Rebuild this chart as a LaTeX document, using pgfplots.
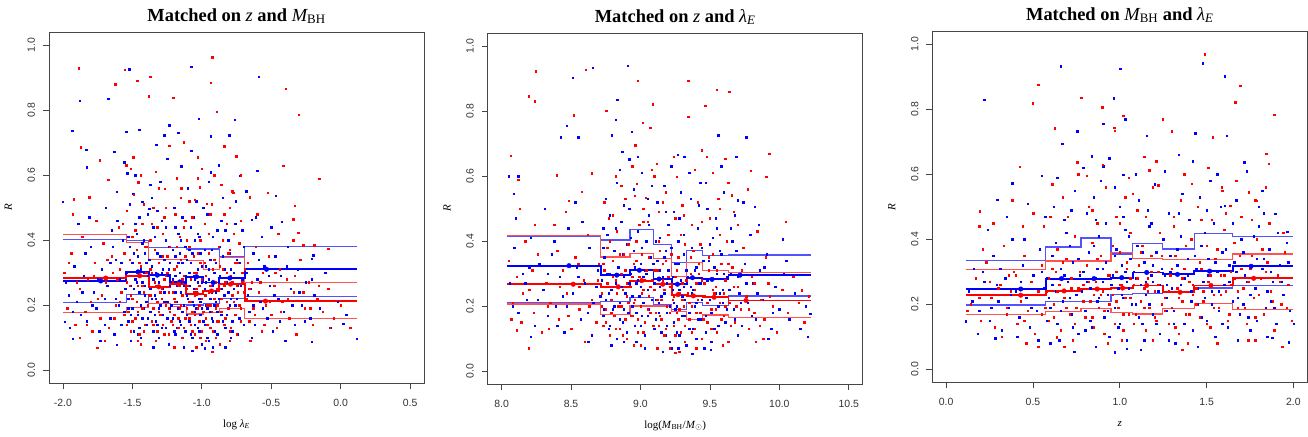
\documentclass[border=0pt]{standalone}
\usepackage{pgfplots}
\pgfplotsset{compat=1.18}
\usepackage{fontspec}
\setmainfont{Liberation Serif}
\newfontfamily\arial{Liberation Sans}
\definecolor{rb}{RGB}{0,0,255}
\definecolor{rr}{RGB}{255,0,0}
\definecolor{frm}{RGB}{70,70,70}
\pgfplotsset{
 rpanel/.style={
  width=375bp, height=351bp, scale only axis, anchor=south west,
  axis line style={frm, line width=0.8bp},
  tick align=outside, xtick pos=left, ytick pos=left,
  major tick length=6bp,
  tick style={frm, line width=0.7bp},
  ymin=-0.04, ymax=1.04,
  ytick={0,0.2,0.4,0.6,0.8,1.0},
  yticklabels={0.0,0.2,0.4,0.6,0.8,1.0},
  ticklabel style={font=\arial\fontsize{10.5}{12}\selectfont, text=black!80},
  xticklabel style={anchor=base, yshift=-17bp},
  yticklabel style={xshift=-8bp, rotate=90, anchor=base},
  xlabel style={at={(axis description cs:0.5,0)}, anchor=base, yshift=-44bp, font=\fontsize{11}{13}\selectfont},
  ylabel style={at={(axis description cs:-0.0987,0.5)}, anchor=base, font=\fontsize{11}{13}\selectfont},
  title style={at={(axis description cs:0.5,1)}, anchor=base, yshift=5bp, font=\fontsize{18.5}{20}\selectfont\bfseries},
  ylabel={\textit{R}},
 },
 bpts/.style={only marks, mark=square*, mark size=0.72bp, color=rb},
 rpts/.style={only marks, mark=square*, mark size=0.72bp, color=rr},
 medb/.style={const plot, no marks, color=rb, line width=1.8bp},
 medr/.style={const plot, no marks, color=rr, line width=1.8bp},
 qb/.style={const plot, no marks, color=rb!68, line width=1.2bp},
 qr/.style={const plot, no marks, color=rr!68, line width=1.2bp},
 dotb/.style={only marks, mark=*, mark size=2.3bp, color=rb},
 dotr/.style={only marks, mark=*, mark size=2.3bp, color=rr},
}
\begin{document}
\begin{tikzpicture}
\useasboundingbox (0,0) rectangle (1308bp,437bp);
% ---------------- Panel 1
\begin{axis}[rpanel, at={(49bp,54bp)},
  xmin=-2.1, xmax=0.6,
  xtick={-2,-1.5,-1,-0.5,0,0.5}, xticklabels={-2.0,-1.5,-1.0,-0.5,0.0,0.5},
  xlabel={log \textit{λ}\textsubscript{\textit{E}}},
  title={Matched on {\mdseries\itshape z} and {\mdseries\itshape M}{\mdseries\textsubscript{BH}}}]
\addplot[bpts] coordinates {(-2.002,0.517)(-1.880,0.829)(-1.933,0.736)(-1.832,0.677)(-1.827,0.624)(-1.673,0.835)(-1.524,0.926)(-1.543,0.734)(-1.452,0.740)(-1.077,0.933)(-0.591,0.903)(-1.022,0.773)(-0.762,0.771)(-1.233,0.753)(-1.272,0.722)(-0.937,0.720)(-0.803,0.722)(-1.171,0.730)(-1.327,0.694)(-1.632,0.672)(-1.075,0.674)(-0.601,0.614)(-1.536,0.606)(-1.147,0.627)(-0.937,0.609)(-0.726,0.597)(-0.469,0.536)(-1.611,0.548)(-1.495,0.543)(-1.428,0.517)(-1.380,0.497)(-0.755,0.520)(-0.642,0.463)(-0.425,0.456)(-0.197,0.353)(-0.209,0.343)(0.115,0.097)(0.019,0.143)(-0.209,0.087)(-0.978,0.067)(-1.928,0.097)(-1.611,0.077)(-1.988,0.149)
(-1.98,0.27)(-1.95,0.13)(-1.92,0.32)(-1.90,0.21)(-1.87,0.17)(-1.85,0.29)(-1.83,0.15)(-1.80,0.38)(-1.78,0.24)(-1.76,0.19)(-1.74,0.12)(-1.72,0.31)(-1.70,0.22)(-1.68,0.26)(-1.66,0.16)(-1.65,0.43)(-1.63,0.11)(-1.62,0.34)(-1.60,0.20)(-1.59,0.28)(-1.58,0.14)(-1.57,0.40)(-1.56,0.18)(-1.89,0.45)(-1.81,0.47)(-1.69,0.50)(-1.61,0.46)(-1.96,0.23)(-1.73,0.09)(-1.84,0.36)
(-1.54,0.30)(-1.53,0.22)(-1.53,0.15)(-1.52,0.38)(-1.51,0.26)(-1.50,0.19)(-1.50,0.33)(-1.49,0.12)(-1.48,0.28)(-1.48,0.45)(-1.47,0.21)(-1.46,0.35)(-1.46,0.17)(-1.45,0.24)(-1.44,0.31)(-1.44,0.10)(-1.43,0.27)(-1.42,0.40)(-1.42,0.19)(-1.41,0.23)(-1.40,0.14)(-1.40,0.33)(-1.39,0.29)(-1.39,0.48)(-1.52,0.51)(-1.47,0.42)(-1.43,0.16)(-1.41,0.36)(-1.49,0.25)(-1.45,0.13)(-1.51,0.09)(-1.40,0.21)
(-1.37,0.25)(-1.37,0.18)(-1.36,0.32)(-1.35,0.12)(-1.35,0.28)(-1.34,0.41)(-1.33,0.22)(-1.33,0.15)(-1.32,0.36)(-1.31,0.27)(-1.31,0.10)(-1.30,0.20)(-1.29,0.30)(-1.29,0.46)(-1.28,0.17)(-1.27,0.24)(-1.27,0.34)(-1.26,0.13)(-1.25,0.29)(-1.25,0.21)(-1.24,0.38)(-1.24,0.08)(-1.23,0.26)(-1.23,0.19)(-1.36,0.53)(-1.30,0.58)(-1.26,0.44)(-1.34,0.23)(-1.28,0.31)(-1.32,0.14)
(-1.21,0.28)(-1.21,0.16)(-1.20,0.22)(-1.19,0.35)(-1.19,0.11)(-1.18,0.26)(-1.17,0.19)(-1.17,0.42)(-1.16,0.30)(-1.15,0.14)(-1.15,0.24)(-1.14,0.33)(-1.13,0.20)(-1.13,0.07)(-1.12,0.27)(-1.12,0.38)(-1.11,0.17)(-1.11,0.23)(-1.20,0.50)(-1.14,0.47)(-1.18,0.13)(-1.16,0.36)(-1.12,0.29)(-1.19,0.24)
(-1.09,0.26)(-1.09,0.15)(-1.08,0.33)(-1.07,0.21)(-1.07,0.10)(-1.06,0.29)(-1.05,0.18)(-1.05,0.40)(-1.04,0.24)(-1.03,0.13)(-1.03,0.31)(-1.02,0.22)(-1.01,0.36)(-1.01,0.17)(-1.00,0.27)(-1.00,0.08)(-1.08,0.44)(-1.04,0.52)(-1.02,0.12)(-1.06,0.20)(-1.00,0.19)(-1.09,0.37)(-1.05,0.28)(-1.03,0.42)
(-0.98,0.25)(-0.98,0.14)(-0.97,0.32)(-0.96,0.19)(-0.95,0.28)(-0.95,0.09)(-0.94,0.22)(-0.93,0.37)(-0.93,0.16)(-0.92,0.26)(-0.91,0.12)(-0.91,0.30)(-0.90,0.21)(-0.89,0.43)(-0.89,0.18)(-0.88,0.27)(-0.96,0.48)(-0.92,0.07)(-0.94,0.34)(-0.90,0.24)
(-0.87,0.29)(-0.86,0.17)(-0.85,0.35)(-0.84,0.23)(-0.83,0.13)(-0.82,0.27)(-0.81,0.40)(-0.80,0.20)(-0.79,0.31)(-0.78,0.15)(-0.77,0.25)(-0.76,0.45)(-0.75,0.22)(-0.74,0.11)(-0.73,0.33)(-0.72,0.19)(-0.71,0.28)(-0.70,0.38)(-0.85,0.53)(-0.79,0.10)(-0.74,0.26)(-0.82,0.21)
(-0.68,0.30)(-0.66,0.18)(-0.65,0.25)(-0.63,0.36)(-0.62,0.14)(-0.60,0.28)(-0.58,0.21)(-0.57,0.41)(-0.55,0.32)(-0.53,0.16)(-0.51,0.26)(-0.49,0.12)(-0.47,0.35)(-0.45,0.22)(-0.43,0.29)(-0.41,0.18)(-0.38,0.38)(-0.36,0.25)(-0.33,0.14)(-0.31,0.31)(-0.28,0.20)(-0.25,0.27)(-0.22,0.16)(-0.19,0.23)(-0.15,0.19)(-0.11,0.30)(-0.07,0.13)(-0.02,0.21)(0.04,0.17)(-0.61,0.47)(-0.50,0.44)(-0.40,0.09)(-0.64,0.10)};
\addplot[bpts] coordinates {(-1.58,0.33)(-1.55,0.25)(-1.53,0.41)(-1.51,0.17)(-1.49,0.36)(-1.47,0.27)(-1.46,0.11)(-1.44,0.20)(-1.43,0.39)(-1.41,0.26)(-1.39,0.16)(-1.38,0.34)(-1.36,0.22)(-1.35,0.44)(-1.34,0.17)(-1.33,0.30)(-1.31,0.19)(-1.30,0.35)(-1.29,0.13)(-1.28,0.25)(-1.26,0.40)(-1.25,0.16)(-1.24,0.31)(-1.22,0.20)(-1.21,0.37)(-1.20,0.12)(-1.19,0.29)(-1.18,0.21)(-1.17,0.33)(-1.16,0.15)(-1.15,0.40)(-1.14,0.18)(-1.13,0.26)(-1.12,0.12)(-1.11,0.34)(-1.10,0.22)(-1.09,0.30)(-1.08,0.11)(-1.07,0.36)(-1.06,0.25)(-1.05,0.14)(-1.04,0.19)(-1.03,0.27)(-1.02,0.41)(-1.01,0.21)(-1.00,0.32)(-0.99,0.15)(-0.98,0.37)(-0.97,0.20)(-0.96,0.10)(-0.95,0.31)(-0.94,0.18)(-0.93,0.24)(-0.92,0.41)(-0.91,0.20)(-0.90,0.33)(-0.89,0.11)(-0.88,0.22)(-0.87,0.38)(-0.86,0.25)(-0.85,0.15)(-0.84,0.31)(-0.83,0.43)(-0.82,0.17)(-0.81,0.24)(-0.80,0.36)(-0.79,0.22)(-0.78,0.12)(-0.77,0.30)(-0.76,0.20)(-0.75,0.34)(-0.73,0.16)(-0.72,0.26)(-0.71,0.43)(-0.70,0.14)(-1.62,0.22)(-1.66,0.33)(-1.70,0.14)(-1.75,0.28)(-1.79,0.20)(-1.86,0.24)(-1.93,0.18)(-1.64,0.38)(-0.67,0.23)(-0.63,0.20)(-0.59,0.34)(-0.56,0.19)(-0.52,0.29)(-0.48,0.23)(-0.44,0.15)(-0.39,0.32)(-0.35,0.20)(-0.30,0.24)(-0.26,0.15)(-0.21,0.28)(-1.48,0.60)(-1.25,0.65)(-1.10,0.56)(-0.95,0.58)(-0.88,0.63)(-1.37,0.57)(-1.56,0.64)(-0.68,0.55)(-1.19,0.44)(-1.06,0.47)(-0.99,0.50)(-1.45,0.47)(-1.32,0.49)(-0.86,0.46)(-1.42,0.30)(-1.27,0.21)(-1.23,0.33)(-0.97,0.27)(-0.92,0.15)(-1.53,0.19)(-1.35,0.07)(-1.07,0.06)(-0.83,0.07)};
\addplot[rpts] coordinates {(-1.885,0.928)(-1.555,0.924)(-1.464,0.891)(-1.370,0.903)(-1.623,0.879)(-0.925,0.962)(-0.937,0.884)(-0.397,0.866)(-1.382,0.843)(-1.207,0.837)(-0.303,0.786)(-0.892,0.794)(-1.870,0.685)(-1.233,0.691)(-1.130,0.701)(-0.837,0.688)(-0.752,0.658)(-1.029,0.655)(-1.736,0.645)(-1.675,0.586)(-0.154,0.588)(-0.413,0.628)(-0.332,0.505)(-0.524,0.545)(-1.923,0.525)(-1.810,0.532)(-1.543,0.630)(-1.495,0.655)(-1.459,0.578)(-1.267,0.558)(-1.147,0.560)(-1.014,0.563)(-1.050,0.524)(-0.966,0.512)(-0.774,0.545)(-0.654,0.532)(-0.798,0.500)(-0.341,0.464)(-0.305,0.423)(-0.341,0.400)(-0.269,0.384)(-0.190,0.384)(-0.089,0.374)(-0.077,0.130)(-1.752,0.069)(-0.925,0.057)
(-1.99,0.30)(-1.97,0.19)(-1.94,0.36)(-1.91,0.14)(-1.88,0.25)(-1.86,0.41)(-1.84,0.18)(-1.82,0.28)(-1.79,0.12)(-1.77,0.33)(-1.75,0.22)(-1.73,0.16)(-1.71,0.39)(-1.69,0.27)(-1.67,0.13)(-1.64,0.30)(-1.62,0.20)(-1.60,0.44)(-1.58,0.24)(-1.56,0.17)(-1.93,0.48)(-1.80,0.21)(-1.70,0.09)(-1.65,0.35)(-1.88,0.10)(-1.76,0.46)(-1.59,0.31)
(-1.54,0.27)(-1.53,0.18)(-1.52,0.34)(-1.51,0.12)(-1.51,0.23)(-1.50,0.41)(-1.49,0.29)(-1.48,0.16)(-1.47,0.37)(-1.47,0.21)(-1.46,0.26)(-1.45,0.11)(-1.44,0.32)(-1.43,0.19)(-1.43,0.45)(-1.42,0.24)(-1.41,0.14)(-1.40,0.30)(-1.39,0.20)(-1.54,0.49)(-1.49,0.54)(-1.44,0.60)(-1.50,0.15)(-1.41,0.38)(-1.46,0.09)(-1.52,0.26)
(-1.37,0.23)(-1.36,0.15)(-1.36,0.30)(-1.35,0.19)(-1.34,0.37)(-1.33,0.26)(-1.32,0.12)(-1.32,0.21)(-1.31,0.33)(-1.30,0.17)(-1.29,0.25)(-1.28,0.42)(-1.28,0.14)(-1.27,0.28)(-1.26,0.20)(-1.25,0.35)(-1.24,0.11)(-1.24,0.24)(-1.23,0.18)(-1.35,0.50)(-1.31,0.56)(-1.27,0.47)(-1.33,0.09)(-1.25,0.30)(-1.37,0.40)(-1.29,0.22)
(-1.21,0.24)(-1.20,0.17)(-1.20,0.31)(-1.19,0.21)(-1.18,0.38)(-1.17,0.13)(-1.17,0.27)(-1.16,0.19)(-1.15,0.34)(-1.14,0.23)(-1.14,0.10)(-1.13,0.29)(-1.12,0.16)(-1.11,0.40)(-1.11,0.25)(-1.19,0.48)(-1.15,0.53)(-1.13,0.44)(-1.21,0.14)(-1.16,0.26)
(-1.09,0.21)(-1.08,0.14)(-1.08,0.28)(-1.07,0.18)(-1.06,0.35)(-1.05,0.23)(-1.05,0.11)(-1.04,0.30)(-1.03,0.19)(-1.02,0.26)(-1.02,0.15)(-1.01,0.40)(-1.00,0.22)(-1.00,0.12)(-1.07,0.47)(-1.03,0.59)(-1.01,0.33)(-1.06,0.24)(-1.09,0.16)(-1.04,0.07)
(-0.98,0.23)(-0.97,0.16)(-0.97,0.29)(-0.96,0.20)(-0.95,0.36)(-0.94,0.13)(-0.94,0.26)(-0.93,0.18)(-0.92,0.31)(-0.91,0.22)(-0.90,0.10)(-0.90,0.27)(-0.89,0.15)(-0.88,0.38)(-0.98,0.45)(-0.93,0.51)(-0.91,0.60)(-0.95,0.24)(-0.89,0.20)
(-0.87,0.25)(-0.86,0.18)(-0.85,0.31)(-0.84,0.14)(-0.83,0.27)(-0.82,0.21)(-0.81,0.36)(-0.80,0.12)(-0.79,0.29)(-0.78,0.23)(-0.77,0.42)(-0.76,0.17)(-0.75,0.26)(-0.74,0.33)(-0.73,0.20)(-0.72,0.15)(-0.71,0.30)(-0.70,0.24)(-0.84,0.48)(-0.78,0.55)(-0.72,0.46)(-0.80,0.09)
(-0.68,0.22)(-0.67,0.33)(-0.66,0.15)(-0.64,0.27)(-0.63,0.19)(-0.61,0.38)(-0.59,0.24)(-0.57,0.12)(-0.56,0.30)(-0.54,0.20)(-0.52,0.35)(-0.50,0.17)(-0.48,0.26)(-0.46,0.13)(-0.44,0.31)(-0.42,0.21)(-0.39,0.28)(-0.37,0.16)(-0.34,0.24)(-0.32,0.11)(-0.29,0.34)(-0.26,0.19)(-0.23,0.27)(-0.20,0.14)(-0.17,0.22)(-0.13,0.18)(-0.09,0.25)(-0.05,0.16)(0.00,0.20)(0.07,0.13)(-0.60,0.48)(-0.45,0.42)(-0.65,0.09)};
\addplot[rpts] coordinates {(-1.59,0.21)(-1.56,0.36)(-1.54,0.14)(-1.52,0.29)(-1.50,0.22)(-1.48,0.43)(-1.46,0.18)(-1.45,0.33)(-1.43,0.26)(-1.42,0.12)(-1.40,0.38)(-1.38,0.23)(-1.37,0.31)(-1.35,0.14)(-1.34,0.27)(-1.32,0.44)(-1.31,0.18)(-1.30,0.24)(-1.28,0.35)(-1.27,0.11)(-1.26,0.29)(-1.24,0.19)(-1.23,0.38)(-1.22,0.15)(-1.21,0.27)(-1.20,0.22)(-1.18,0.32)(-1.17,0.16)(-1.16,0.41)(-1.15,0.20)(-1.14,0.28)(-1.13,0.13)(-1.12,0.35)(-1.11,0.19)(-1.10,0.26)(-1.09,0.38)(-1.08,0.21)(-1.07,0.12)(-1.06,0.30)(-1.05,0.17)(-1.04,0.25)(-1.03,0.36)(-1.02,0.20)(-1.01,0.10)(-1.00,0.28)(-0.99,0.18)(-0.98,0.33)(-0.97,0.23)(-0.96,0.14)(-0.95,0.42)(-0.94,0.20)(-0.93,0.27)(-0.92,0.12)(-0.91,0.34)(-0.90,0.19)(-0.89,0.25)(-0.88,0.15)(-0.87,0.32)(-0.86,0.22)(-0.85,0.40)(-0.84,0.26)(-0.83,0.16)(-0.82,0.30)(-0.81,0.19)(-0.80,0.37)(-0.79,0.13)(-0.78,0.27)(-0.77,0.21)(-0.76,0.33)(-0.75,0.11)(-0.74,0.24)(-0.73,0.39)(-0.72,0.19)(-0.71,0.27)(-1.61,0.28)(-1.63,0.16)(-1.68,0.34)(-1.72,0.23)(-1.78,0.29)(-1.83,0.14)(-1.90,0.27)(-1.96,0.33)(-0.69,0.31)(-0.66,0.25)(-0.62,0.17)(-0.58,0.27)(-0.55,0.14)(-0.51,0.21)(-0.47,0.30)(-0.43,0.18)(-0.38,0.22)(-0.33,0.29)(-0.27,0.24)(-0.22,0.19)(-0.16,0.26)(-1.51,0.62)(-1.33,0.61)(-1.18,0.59)(-1.00,0.62)(-0.86,0.57)(-0.72,0.60)(-1.42,0.51)(-1.26,0.50)(-1.09,0.52)(-0.94,0.48)(-0.82,0.45)(-1.57,0.45)(-1.36,0.45)(-0.97,0.09)(-1.20,0.07)(-1.44,0.08)(-0.87,0.08)(-1.12,0.46)};
\addplot[qb] coordinates {(-2.0,0.401)(-1.543,0.399)(-1.382,0.377)(-1.226,0.376)(-1.111,0.372)(-0.99,0.372)(-0.875,0.348)(-0.69,0.379)(0.115,0.379)};
\addplot[qb] coordinates {(-2.0,0.208)(-1.543,0.233)(-1.382,0.205)(-1.226,0.202)(-1.111,0.200)(-0.99,0.205)(-0.875,0.220)(-0.69,0.227)(0.115,0.227)};
\addplot[qr] coordinates {(-2.0,0.417)(-1.543,0.392)(-1.382,0.341)(-1.226,0.341)(-1.111,0.336)(-0.99,0.310)(-0.875,0.346)(-0.69,0.268)(0.115,0.268)};
\addplot[qr] coordinates {(-2.0,0.177)(-1.543,0.192)(-1.382,0.205)(-1.226,0.196)(-1.111,0.172)(-0.99,0.178)(-0.875,0.189)(-0.69,0.159)(0.115,0.159)};
\addplot[medb] coordinates {(-2.0,0.274)(-1.543,0.302)(-1.382,0.292)(-1.226,0.271)(-1.111,0.287)(-0.99,0.269)(-0.875,0.283)(-0.69,0.310)(0.115,0.310)};
\addplot[medr] coordinates {(-2.0,0.283)(-1.543,0.290)(-1.382,0.256)(-1.226,0.264)(-1.111,0.235)(-0.99,0.243)(-0.875,0.264)(-0.69,0.212)(0.115,0.212)};
\addplot[dotb] coordinates {(-1.728,0.274)(-1.459,0.302)(-1.320,0.292)(-1.159,0.271)(-1.038,0.287)(-0.918,0.269)(-0.798,0.283)(-0.534,0.310)};
\addplot[dotr] coordinates {(-1.692,0.283)(-1.447,0.290)(-1.310,0.256)(-1.166,0.264)(-1.038,0.235)(-0.930,0.243)(-0.793,0.264)(-0.541,0.212)};
\end{axis}
% ---------------- Panel 2
\begin{axis}[rpanel, at={(487.7bp,53bp)},
  xmin=7.9, xmax=10.6,
  xtick={8,8.5,9,9.5,10,10.5}, xticklabels={8.0,8.5,9.0,9.5,10.0,10.5},
  xlabel={log(\textit{M}\textsubscript{BH}/\textit{M}\textsubscript{$\odot$})},
  title={Matched on {\mdseries\itshape z} and {\mdseries\itshape λ}{\mdseries\itshape\textsubscript{E}}}]
\addplot[bpts] coordinates {(8.053,0.600)(8.089,0.546)(8.120,0.599)(8.512,0.903)(8.656,0.933)(8.908,0.939)(8.468,0.754)(8.550,0.720)(8.427,0.720)(8.833,0.835)(8.793,0.725)(8.821,0.774)(8.937,0.736)(8.920,0.652)(8.869,0.674)(9.561,0.725)(9.760,0.720)(9.700,0.526)(9.268,0.666)(9.314,0.659)(9.688,0.659)(9.823,0.505)(10.022,0.406)(10.202,0.106)(10.221,0.177)(9.506,0.065)(9.371,0.054)(9.220,0.070)(8.624,0.090)(8.211,0.106)
(8.06,0.27)(8.09,0.38)(8.12,0.18)(8.15,0.30)(8.18,0.22)(8.21,0.41)(8.24,0.14)(8.27,0.33)(8.30,0.25)(8.33,0.17)(8.36,0.36)(8.39,0.20)(8.42,0.29)(8.45,0.12)(8.48,0.44)(8.51,0.24)(8.54,0.32)(8.57,0.16)(8.60,0.27)(8.63,0.38)(8.66,0.21)(8.69,0.31)(8.10,0.47)(8.31,0.50)(8.53,0.52)(8.44,0.23)(8.20,0.32)(8.65,0.11)(8.38,0.40)(8.58,0.46)
(8.72,0.28)(8.73,0.17)(8.74,0.35)(8.75,0.22)(8.76,0.42)(8.77,0.13)(8.78,0.30)(8.79,0.25)(8.80,0.19)(8.81,0.37)(8.82,0.27)(8.83,0.10)(8.84,0.32)(8.85,0.21)(8.86,0.46)(8.87,0.15)(8.88,0.29)(8.89,0.24)(8.90,0.39)(8.91,0.18)(8.75,0.53)(8.83,0.58)(8.88,0.51)(8.79,0.08)(8.86,0.26)(8.73,0.44)
(8.93,0.30)(8.94,0.20)(8.95,0.37)(8.96,0.14)(8.97,0.27)(8.98,0.43)(8.99,0.23)(9.00,0.33)(9.01,0.17)(9.02,0.29)(9.03,0.11)(9.04,0.40)(9.05,0.25)(9.06,0.19)(9.07,0.35)(9.08,0.22)(8.95,0.56)(9.01,0.61)(9.06,0.48)(8.97,0.09)(9.03,0.31)(9.00,0.26)
(9.10,0.27)(9.11,0.16)(9.12,0.34)(9.13,0.21)(9.14,0.41)(9.15,0.12)(9.16,0.29)(9.17,0.24)(9.18,0.37)(9.19,0.18)(9.20,0.31)(9.21,0.09)(9.12,0.52)(9.17,0.57)(9.20,0.45)(9.14,0.26)(9.11,0.22)(9.19,0.14)
(9.23,0.25)(9.24,0.15)(9.25,0.33)(9.26,0.20)(9.27,0.40)(9.28,0.11)(9.29,0.28)(9.30,0.23)(9.31,0.36)(9.32,0.17)(9.24,0.49)(9.29,0.55)(9.27,0.07)(9.31,0.26)(9.25,0.19)
(9.34,0.29)(9.35,0.18)(9.36,0.35)(9.37,0.24)(9.38,0.13)(9.39,0.31)(9.40,0.21)(9.41,0.44)(9.42,0.27)(9.43,0.16)(9.44,0.38)(9.36,0.53)(9.40,0.10)(9.43,0.58)(9.38,0.25)
(9.46,0.27)(9.47,0.17)(9.49,0.34)(9.50,0.22)(9.52,0.41)(9.53,0.13)(9.55,0.30)(9.56,0.20)(9.58,0.36)(9.59,0.25)(9.61,0.15)(9.62,0.29)(9.48,0.50)(9.54,0.47)(9.60,0.55)(9.51,0.09)(9.57,0.24)
(9.65,0.30)(9.67,0.19)(9.69,0.37)(9.71,0.24)(9.73,0.14)(9.75,0.33)(9.77,0.21)(9.79,0.42)(9.81,0.27)(9.83,0.16)(9.86,0.31)(9.88,0.22)(9.91,0.36)(9.94,0.13)(9.97,0.26)(10.00,0.19)(10.03,0.30)(10.07,0.16)(10.11,0.24)(10.15,0.13)(10.19,0.20)(9.68,0.48)(9.74,0.52)(9.85,0.45)(9.92,0.10)(9.70,0.11)(10.05,0.34)};
\addplot[bpts] coordinates {(8.71,0.23)(8.73,0.38)(8.74,0.19)(8.76,0.30)(8.77,0.24)(8.78,0.14)(8.80,0.34)(8.81,0.20)(8.82,0.44)(8.84,0.26)(8.85,0.16)(8.87,0.36)(8.88,0.19)(8.89,0.31)(8.90,0.12)(8.92,0.27)(8.93,0.41)(8.94,0.23)(8.96,0.32)(8.97,0.18)(8.98,0.28)(9.00,0.14)(9.01,0.38)(9.02,0.21)(9.04,0.30)(9.05,0.17)(9.06,0.45)(9.07,0.26)(9.09,0.33)(9.10,0.13)(9.11,0.40)(9.13,0.18)(9.14,0.31)(9.15,0.23)(9.17,0.35)(9.18,0.11)(9.19,0.27)(9.21,0.20)(9.22,0.38)(9.23,0.29)(9.24,0.21)(9.26,0.12)(9.27,0.33)(9.28,0.25)(9.30,0.17)(9.31,0.42)(9.32,0.22)(9.33,0.31)(9.35,0.13)(9.36,0.26)(9.37,0.38)(9.39,0.20)(9.40,0.32)(9.41,0.16)(9.43,0.27)(9.44,0.22)(9.45,0.34)(9.47,0.12)(9.48,0.28)(9.50,0.39)(9.51,0.18)(9.53,0.32)(9.54,0.24)(9.56,0.14)(9.57,0.37)(9.59,0.21)(9.60,0.30)(9.62,0.19)(9.64,0.25)(9.66,0.40)(9.68,0.16)(9.70,0.29)(9.72,0.21)(9.76,0.27)(9.80,0.17)(9.84,0.24)(9.89,0.32)(9.95,0.18)(8.68,0.26)(8.62,0.18)(8.55,0.29)(8.47,0.20)(8.40,0.14)(8.33,0.30)(8.26,0.22)(8.17,0.27)(8.08,0.20)(8.85,0.62)(8.98,0.66)(9.08,0.57)(9.22,0.63)(9.35,0.61)(9.47,0.58)(9.58,0.63)(8.78,0.48)(8.92,0.50)(9.05,0.53)(9.18,0.49)(9.28,0.47)(9.42,0.51)(9.55,0.44)(9.65,0.44)(9.03,0.07)(9.16,0.06)(9.33,0.08)(9.46,0.07)(8.88,0.09)};
\addplot[rpts] coordinates {(8.247,0.923)(8.605,0.927)(8.197,0.845)(8.240,0.830)(8.521,0.787)(8.752,0.801)(8.980,0.893)(9.016,0.764)(9.069,0.749)(9.088,0.821)(9.345,0.894)(9.345,0.782)(9.465,0.817)(9.549,0.866)(9.640,0.859)(8.067,0.663)(8.120,0.589)(8.396,0.603)(8.483,0.524)(8.576,0.551)(8.648,0.608)(8.961,0.695)(8.973,0.577)(9.038,0.534)(9.117,0.638)(9.261,0.597)(9.441,0.679)(9.477,0.659)(9.609,0.654)(9.657,0.541)(9.794,0.616)(9.904,0.597)(9.928,0.669)(10.046,0.459)(8.108,0.126)(8.197,0.070)(9.249,0.056)(9.885,0.100)(10.161,0.249)
(8.05,0.34)(8.08,0.21)(8.11,0.29)(8.14,0.15)(8.17,0.40)(8.20,0.25)(8.23,0.18)(8.26,0.36)(8.29,0.12)(8.32,0.27)(8.35,0.21)(8.38,0.45)(8.41,0.16)(8.44,0.31)(8.47,0.24)(8.50,0.13)(8.53,0.35)(8.56,0.19)(8.59,0.28)(8.62,0.42)(8.65,0.22)(8.68,0.15)(8.70,0.33)(8.13,0.50)(8.34,0.13)(8.46,0.49)(8.60,0.09)(8.24,0.45)(8.56,0.26)(8.40,0.37)
(8.72,0.24)(8.73,0.14)(8.74,0.31)(8.75,0.19)(8.76,0.38)(8.77,0.26)(8.78,0.11)(8.79,0.22)(8.80,0.34)(8.81,0.17)(8.82,0.28)(8.83,0.43)(8.84,0.20)(8.85,0.13)(8.86,0.30)(8.87,0.25)(8.88,0.36)(8.89,0.16)(8.90,0.27)(8.91,0.21)(8.74,0.52)(8.80,0.48)(8.86,0.57)(8.90,0.10)
(8.93,0.26)(8.94,0.17)(8.95,0.33)(8.96,0.22)(8.97,0.40)(8.98,0.12)(8.99,0.29)(9.00,0.20)(9.01,0.36)(9.02,0.25)(9.03,0.15)(9.04,0.31)(9.05,0.46)(9.06,0.23)(9.07,0.18)(9.08,0.28)(8.96,0.54)(9.02,0.50)(9.08,0.62)(9.00,0.08)
(9.10,0.25)(9.11,0.18)(9.12,0.31)(9.13,0.14)(9.14,0.37)(9.15,0.22)(9.16,0.28)(9.17,0.11)(9.18,0.34)(9.19,0.20)(9.20,0.42)(9.21,0.26)(9.13,0.49)(9.18,0.55)(9.15,0.16)(9.21,0.07)
(9.23,0.22)(9.24,0.14)(9.25,0.29)(9.26,0.18)(9.27,0.35)(9.28,0.24)(9.29,0.12)(9.30,0.27)(9.31,0.20)(9.32,0.39)(9.25,0.47)(9.30,0.51)(9.27,0.16)(9.32,0.09)
(9.34,0.24)(9.35,0.16)(9.36,0.30)(9.37,0.20)(9.38,0.37)(9.39,0.13)(9.40,0.27)(9.41,0.22)(9.42,0.33)(9.43,0.18)(9.44,0.28)(9.37,0.45)(9.41,0.52)(9.44,0.10)
(9.46,0.23)(9.48,0.15)(9.49,0.31)(9.51,0.19)(9.52,0.36)(9.54,0.26)(9.55,0.12)(9.57,0.21)(9.58,0.33)(9.60,0.17)(9.61,0.28)(9.62,0.40)(9.50,0.47)(9.56,0.53)(9.59,0.08)(9.53,0.24)
(9.64,0.21)(9.66,0.32)(9.68,0.15)(9.70,0.26)(9.72,0.19)(9.74,0.38)(9.76,0.23)(9.78,0.13)(9.80,0.29)(9.82,0.18)(9.84,0.43)(9.87,0.22)(9.89,0.16)(9.92,0.27)(9.95,0.20)(9.98,0.12)(10.02,0.25)(10.06,0.18)(10.10,0.29)(10.14,0.21)(10.18,0.15)(9.67,0.49)(9.77,0.56)(9.90,0.35)(10.21,0.23)(9.83,0.09)};
\addplot[rpts] coordinates {(8.72,0.20)(8.73,0.33)(8.75,0.15)(8.76,0.27)(8.78,0.40)(8.79,0.18)(8.80,0.29)(8.82,0.13)(8.83,0.24)(8.85,0.36)(8.86,0.20)(8.87,0.11)(8.89,0.31)(8.90,0.23)(8.91,0.39)(8.93,0.17)(8.94,0.29)(8.95,0.21)(8.97,0.34)(8.98,0.16)(8.99,0.45)(9.01,0.24)(9.02,0.12)(9.03,0.28)(9.05,0.19)(9.06,0.35)(9.07,0.26)(9.09,0.14)(9.10,0.31)(9.12,0.22)(9.13,0.40)(9.14,0.17)(9.16,0.33)(9.17,0.25)(9.18,0.13)(9.20,0.29)(9.21,0.18)(9.22,0.36)(9.24,0.23)(9.25,0.11)(9.26,0.31)(9.28,0.19)(9.29,0.42)(9.30,0.22)(9.32,0.14)(9.33,0.28)(9.35,0.21)(9.36,0.35)(9.37,0.12)(9.39,0.25)(9.40,0.18)(9.42,0.30)(9.43,0.39)(9.45,0.16)(9.46,0.27)(9.48,0.21)(9.49,0.35)(9.51,0.13)(9.52,0.25)(9.54,0.19)(9.55,0.31)(9.57,0.42)(9.58,0.16)(9.60,0.24)(9.61,0.20)(9.63,0.33)(9.65,0.14)(9.67,0.26)(9.69,0.20)(9.73,0.31)(9.78,0.19)(9.82,0.27)(9.86,0.14)(9.93,0.23)(8.69,0.28)(8.63,0.20)(8.55,0.33)(8.48,0.17)(8.42,0.26)(8.33,0.20)(8.22,0.31)(8.15,0.24)(8.07,0.16)(8.82,0.60)(8.94,0.63)(9.10,0.60)(9.24,0.66)(9.39,0.62)(9.52,0.61)(9.63,0.58)(8.77,0.47)(8.89,0.53)(9.02,0.46)(9.16,0.52)(9.31,0.48)(9.44,0.46)(9.57,0.50)(9.70,0.45)(8.95,0.08)(9.12,0.07)(9.28,0.06)(9.40,0.07)(9.63,0.09)};
\addplot[qb] coordinates {(8.041,0.414)(8.713,0.403)(8.925,0.435)(9.093,0.389)(9.225,0.333)(9.333,0.371)(9.446,0.356)(9.633,0.357)(10.226,0.357)};
\addplot[qb] coordinates {(8.041,0.210)(8.713,0.215)(8.925,0.225)(9.093,0.203)(9.225,0.190)(9.333,0.210)(9.446,0.201)(9.633,0.231)(10.226,0.231)};
\addplot[qr] coordinates {(8.041,0.417)(8.713,0.351)(8.925,0.362)(9.093,0.346)(9.225,0.290)(9.333,0.333)(9.446,0.308)(9.633,0.303)(10.226,0.303)};
\addplot[qr] coordinates {(8.041,0.206)(8.713,0.175)(8.925,0.200)(9.093,0.200)(9.225,0.182)(9.333,0.159)(9.446,0.172)(9.633,0.165)(10.226,0.165)};
\addplot[medb] coordinates {(8.041,0.324)(8.713,0.295)(8.925,0.310)(9.093,0.283)(9.225,0.267)(9.333,0.287)(9.446,0.282)(9.633,0.295)(10.226,0.295)};
\addplot[medr] coordinates {(8.041,0.267)(8.713,0.259)(8.925,0.278)(9.093,0.267)(9.225,0.235)(9.333,0.231)(9.446,0.227)(9.633,0.217)(10.226,0.217)};
\addplot[dotb] coordinates {(8.485,0.324)(8.829,0.295)(8.992,0.310)(9.134,0.283)(9.266,0.267)(9.374,0.287)(9.515,0.282)(9.717,0.295)};
\addplot[dotr] coordinates {(8.516,0.267)(8.84,0.259)(9.009,0.278)(9.16,0.267)(9.27,0.235)(9.381,0.231)(9.53,0.227)(9.76,0.217)};
\end{axis}
% ---------------- Panel 3
\begin{axis}[rpanel, at={(932.3bp,54.7bp)},
  xmin=-0.08, xmax=2.08,
  xtick={0,0.5,1,1.5,2}, xticklabels={0.0,0.5,1.0,1.5,2.0},
  xlabel={\textit{z}},
  title={Matched on {\mdseries\itshape M}{\mdseries\textsubscript{BH}} and {\mdseries\itshape λ}{\mdseries\itshape\textsubscript{E}}}]
\addplot[bpts] coordinates {(0.218,0.829)(0.660,0.933)(1.001,0.925)(0.966,0.834)(1.478,0.942)(1.603,0.902)(1.617,0.719)(1.155,0.719)(1.434,0.726)(0.905,0.755)(1.030,0.770)(0.755,0.732)(0.668,0.694)(0.837,0.656)(0.905,0.625)(1.020,0.599)(1.338,0.661)(1.717,0.637)(1.819,0.550)(1.896,0.478)(1.963,0.424)(0.379,0.573)(0.295,0.522)(0.549,0.596)(1.603,0.504)(2.0,0.140)(0.112,0.148)(0.283,0.096)(0.737,0.055)(0.972,0.053)(1.039,0.064)(1.973,0.084)(1.877,0.097)
(0.13,0.24)(0.16,0.31)(0.19,0.18)(0.22,0.27)(0.25,0.15)(0.27,0.35)(0.30,0.21)(0.32,0.12)(0.34,0.28)(0.36,0.19)(0.38,0.40)(0.40,0.24)(0.42,0.16)(0.44,0.32)(0.46,0.22)(0.48,0.13)(0.50,0.29)(0.52,0.18)(0.54,0.37)(0.56,0.25)(0.24,0.43)(0.35,0.47)(0.47,0.51)(0.41,0.10)(0.29,0.26)(0.53,0.09)(0.45,0.40)(0.18,0.11)
(0.58,0.28)(0.60,0.19)(0.61,0.35)(0.63,0.24)(0.64,0.14)(0.66,0.31)(0.67,0.21)(0.69,0.42)(0.70,0.27)(0.72,0.17)(0.73,0.33)(0.75,0.23)(0.76,0.11)(0.77,0.29)(0.62,0.50)(0.68,0.46)(0.74,0.55)(0.65,0.09)(0.71,0.38)(0.59,0.22)
(0.79,0.30)(0.80,0.18)(0.82,0.36)(0.83,0.25)(0.84,0.13)(0.86,0.28)(0.87,0.21)(0.88,0.41)(0.90,0.27)(0.91,0.16)(0.92,0.33)(0.93,0.23)(0.94,0.10)(0.81,0.48)(0.85,0.53)(0.89,0.58)(0.92,0.45)(0.87,0.31)(0.80,0.12)
(0.96,0.29)(0.97,0.19)(0.98,0.37)(0.99,0.25)(1.00,0.14)(1.01,0.32)(1.02,0.22)(1.03,0.43)(1.04,0.27)(1.05,0.17)(1.06,0.34)(1.00,0.50)(1.04,0.09)(0.97,0.56)(1.05,0.25)
(1.08,0.30)(1.09,0.20)(1.10,0.38)(1.12,0.26)(1.13,0.14)(1.14,0.33)(1.15,0.23)(1.17,0.44)(1.18,0.29)(1.19,0.17)(1.21,0.36)(1.22,0.24)(1.23,0.11)(1.24,0.31)(1.11,0.52)(1.16,0.49)(1.20,0.57)(1.14,0.09)(1.19,0.27)
(1.26,0.29)(1.27,0.18)(1.29,0.35)(1.30,0.25)(1.31,0.14)(1.33,0.32)(1.34,0.22)(1.35,0.41)(1.37,0.28)(1.38,0.17)(1.39,0.34)(1.41,0.24)(1.42,0.12)(1.28,0.48)(1.36,0.54)(1.40,0.46)(1.32,0.08)(1.27,0.26)
(1.44,0.31)(1.45,0.20)(1.47,0.38)(1.48,0.27)(1.50,0.15)(1.51,0.34)(1.53,0.24)(1.54,0.45)(1.56,0.30)(1.57,0.18)(1.59,0.36)(1.60,0.26)(1.62,0.13)(1.63,0.32)(1.46,0.53)(1.52,0.58)(1.58,0.50)(1.55,0.10)(1.49,0.22)
(1.66,0.33)(1.68,0.22)(1.70,0.40)(1.72,0.29)(1.74,0.16)(1.76,0.35)(1.78,0.25)(1.80,0.44)(1.82,0.31)(1.84,0.19)(1.86,0.37)(1.88,0.27)(1.90,0.14)(1.92,0.32)(1.94,0.23)(1.96,0.39)(1.98,0.18)(1.67,0.52)(1.75,0.12)(1.83,0.48)(1.91,0.42)(1.71,0.20)(1.79,0.34)(1.87,0.21)};
\addplot[bpts] coordinates {(0.31,0.31)(0.37,0.23)(0.43,0.27)(0.49,0.19)(0.55,0.30)(0.58,0.15)(0.61,0.26)(0.63,0.39)(0.66,0.18)(0.68,0.29)(0.71,0.22)(0.73,0.13)(0.76,0.34)(0.78,0.24)(0.81,0.27)(0.83,0.15)(0.85,0.38)(0.88,0.22)(0.90,0.31)(0.93,0.18)(0.95,0.26)(0.97,0.35)(0.99,0.13)(1.01,0.23)(1.03,0.30)(1.05,0.41)(1.07,0.20)(1.09,0.28)(1.11,0.16)(1.13,0.36)(1.15,0.27)(1.17,0.20)(1.19,0.32)(1.21,0.14)(1.23,0.26)(1.25,0.40)(1.27,0.22)(1.29,0.30)(1.31,0.18)(1.33,0.37)(1.35,0.26)(1.37,0.14)(1.39,0.29)(1.41,0.21)(1.43,0.35)(1.45,0.25)(1.47,0.16)(1.49,0.42)(1.51,0.29)(1.53,0.20)(1.55,0.33)(1.57,0.24)(1.59,0.14)(1.61,0.37)(1.63,0.27)(1.65,0.21)(1.67,0.30)(1.69,0.17)(1.71,0.36)(1.73,0.27)(1.75,0.23)(1.77,0.41)(1.79,0.15)(1.81,0.28)(1.83,0.34)(1.85,0.24)(1.87,0.30)(1.89,0.19)(1.93,0.27)(1.97,0.33)(0.26,0.19)(0.21,0.30)(0.15,0.21)(0.64,0.59)(0.79,0.62)(0.94,0.65)(1.09,0.60)(1.26,0.61)(1.42,0.64)(1.56,0.60)(1.73,0.61)(0.57,0.47)(0.72,0.49)(0.86,0.46)(1.02,0.47)(1.18,0.45)(1.34,0.48)(1.50,0.49)(1.65,0.45)(1.80,0.50)(0.60,0.08)(0.86,0.07)(1.12,0.06)(1.28,0.09)(1.45,0.07)(1.68,0.09)(1.85,0.10)};
\addplot[rpts] coordinates {(0.529,0.876)(0.497,0.819)(0.778,0.836)(0.899,0.806)(0.968,0.744)(1.020,0.781)(1.141,0.655)(1.247,0.770)(1.299,0.733)(1.488,0.970)(1.536,0.714)(1.665,0.822)(1.694,0.872)(1.844,0.663)(1.890,0.784)(1.858,0.632)(0.192,0.487)(0.189,0.440)(0.423,0.624)(0.626,0.742)(0.755,0.637)(0.972,0.735)(0.808,0.596)(1.074,0.540)(1.170,0.612)(1.220,0.566)(1.415,0.571)(1.588,0.560)(1.636,0.504)(1.742,0.545)(1.790,0.519)(1.935,0.069)(0.529,0.069)(0.635,0.099)
(0.14,0.20)(0.17,0.28)(0.20,0.15)(0.23,0.33)(0.26,0.22)(0.28,0.13)(0.31,0.26)(0.33,0.38)(0.35,0.17)(0.37,0.24)(0.39,0.30)(0.41,0.14)(0.43,0.21)(0.45,0.35)(0.47,0.18)(0.49,0.27)(0.51,0.11)(0.53,0.24)(0.55,0.32)(0.57,0.19)(0.27,0.45)(0.38,0.52)(0.44,0.44)(0.50,0.48)(0.32,0.10)(0.21,0.37)(0.46,0.08)(0.36,0.29)
(0.58,0.24)(0.59,0.15)(0.61,0.31)(0.62,0.20)(0.64,0.37)(0.65,0.26)(0.66,0.12)(0.68,0.22)(0.69,0.34)(0.71,0.17)(0.72,0.28)(0.74,0.41)(0.75,0.19)(0.76,0.25)(0.60,0.47)(0.67,0.53)(0.73,0.09)(0.63,0.30)
(0.79,0.26)(0.80,0.16)(0.81,0.32)(0.83,0.21)(0.84,0.39)(0.85,0.13)(0.86,0.27)(0.88,0.19)(0.89,0.35)(0.90,0.24)(0.91,0.11)(0.93,0.29)(0.94,0.20)(0.82,0.50)(0.87,0.45)(0.92,0.56)(0.85,0.23)
(0.96,0.23)(0.97,0.14)(0.98,0.30)(0.99,0.19)(1.00,0.36)(1.01,0.26)(1.02,0.12)(1.03,0.22)(1.04,0.33)(1.05,0.17)(1.06,0.28)(0.98,0.47)(1.03,0.53)(1.06,0.42)(1.01,0.09)
(1.08,0.26)(1.09,0.17)(1.11,0.32)(1.12,0.21)(1.13,0.38)(1.15,0.12)(1.16,0.28)(1.17,0.19)(1.18,0.35)(1.20,0.24)(1.21,0.15)(1.22,0.30)(1.23,0.42)(1.10,0.49)(1.19,0.56)(1.24,0.20)(1.14,0.25)
(1.26,0.22)(1.28,0.14)(1.29,0.29)(1.30,0.19)(1.32,0.35)(1.33,0.25)(1.34,0.11)(1.36,0.21)(1.37,0.31)(1.38,0.17)(1.40,0.27)(1.41,0.40)(1.42,0.23)(1.31,0.47)(1.35,0.52)(1.39,0.08)
(1.44,0.25)(1.46,0.16)(1.47,0.31)(1.48,0.21)(1.50,0.38)(1.51,0.27)(1.52,0.13)(1.54,0.23)(1.55,0.34)(1.57,0.19)(1.58,0.29)(1.60,0.43)(1.61,0.24)(1.63,0.17)(1.45,0.50)(1.53,0.46)(1.59,0.55)(1.64,0.30)
(1.66,0.28)(1.68,0.19)(1.69,0.35)(1.71,0.25)(1.73,0.14)(1.75,0.31)(1.77,0.22)(1.79,0.40)(1.81,0.28)(1.83,0.17)(1.85,0.33)(1.87,0.24)(1.89,0.12)(1.91,0.29)(1.93,0.20)(1.95,0.36)(1.97,0.26)(1.99,0.15)(1.70,0.47)(1.78,0.52)(1.86,0.45)(1.94,0.42)(1.74,0.09)(1.82,0.37)};
\addplot[rpts] coordinates {(0.30,0.25)(0.35,0.19)(0.40,0.29)(0.45,0.15)(0.50,0.23)(0.55,0.17)(0.59,0.28)(0.62,0.16)(0.64,0.24)(0.67,0.33)(0.69,0.19)(0.72,0.25)(0.74,0.14)(0.77,0.30)(0.79,0.21)(0.82,0.27)(0.84,0.16)(0.87,0.34)(0.89,0.23)(0.91,0.18)(0.94,0.29)(0.96,0.38)(0.98,0.21)(1.00,0.26)(1.02,0.17)(1.04,0.31)(1.06,0.22)(1.08,0.14)(1.10,0.28)(1.12,0.36)(1.14,0.19)(1.16,0.24)(1.18,0.30)(1.20,0.16)(1.22,0.26)(1.24,0.35)(1.26,0.18)(1.28,0.24)(1.30,0.31)(1.32,0.13)(1.34,0.22)(1.36,0.28)(1.38,0.38)(1.40,0.17)(1.42,0.26)(1.44,0.20)(1.46,0.33)(1.48,0.24)(1.50,0.14)(1.52,0.29)(1.54,0.19)(1.56,0.37)(1.58,0.23)(1.60,0.29)(1.62,0.15)(1.64,0.26)(1.66,0.39)(1.68,0.24)(1.70,0.31)(1.72,0.19)(1.74,0.27)(1.76,0.35)(1.78,0.16)(1.80,0.23)(1.84,0.30)(1.88,0.21)(1.92,0.27)(1.96,0.19)(0.25,0.27)(0.19,0.22)(0.12,0.18)(0.61,0.57)(0.76,0.60)(0.90,0.63)(1.05,0.59)(1.21,0.64)(1.37,0.60)(1.51,0.62)(1.67,0.58)(1.84,0.56)(0.56,0.44)(0.70,0.47)(0.84,0.49)(1.00,0.45)(1.15,0.47)(1.31,0.44)(1.47,0.46)(1.61,0.48)(1.76,0.46)(0.68,0.07)(0.93,0.08)(1.19,0.09)(1.36,0.06)(1.56,0.08)(1.78,0.09)};
\addplot[qb] coordinates {(0.112,0.334)(0.574,0.376)(0.776,0.404)(0.949,0.355)(1.074,0.388)(1.247,0.370)(1.428,0.418)(1.650,0.408)(2.0,0.408)};
\addplot[qb] coordinates {(0.112,0.198)(0.574,0.209)(0.776,0.209)(0.949,0.229)(1.074,0.232)(1.247,0.237)(1.428,0.250)(1.650,0.258)(2.0,0.258)};
\addplot[qr] coordinates {(0.112,0.308)(0.574,0.333)(0.776,0.333)(0.949,0.360)(1.074,0.340)(1.247,0.338)(1.428,0.337)(1.650,0.355)(2.0,0.355)};
\addplot[qr] coordinates {(0.112,0.168)(0.574,0.177)(0.776,0.187)(0.949,0.175)(1.074,0.170)(1.247,0.187)(1.428,0.202)(1.650,0.185)(2.0,0.185)};
\addplot[medb] coordinates {(0.112,0.247)(0.574,0.279)(0.776,0.279)(0.949,0.282)(1.074,0.298)(1.247,0.292)(1.428,0.302)(1.650,0.317)(2.0,0.317)};
\addplot[medr] coordinates {(0.112,0.228)(0.574,0.241)(0.776,0.247)(0.949,0.250)(1.074,0.258)(1.247,0.237)(1.428,0.258)(1.650,0.280)(2.0,0.280)};
\addplot[dotb] coordinates {(0.429,0.247)(0.664,0.279)(0.851,0.279)(1.011,0.282)(1.155,0.298)(1.332,0.292)(1.517,0.302)(1.756,0.317)};
\addplot[dotr] coordinates {(0.429,0.228)(0.679,0.241)(0.870,0.247)(1.016,0.250)(1.155,0.258)(1.347,0.237)(1.525,0.258)(1.771,0.280)};
\end{axis}
\end{tikzpicture}
\end{document}
